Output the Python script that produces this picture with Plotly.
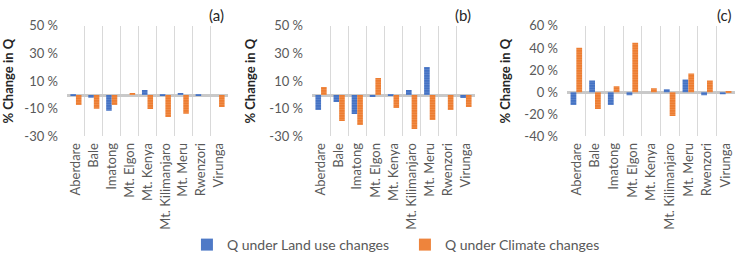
import plotly.graph_objects as go

categories = ["Aberdare", "Bale", "Imatong", "Mt. Elgon", "Mt. Kenya",
              "Mt. Kilimanjaro", "Mt. Meru", "Rwenzori", "Virunga"]

# values in %
a_land = [0.5, -2.0, -11.4, 0.0, 3.6, 0.5, 1.5, 0.7, 0.0]
a_clim = [-7.3, -10.0, -7.3, 1.5, -10.2, -16.0, -13.6, 0.0, -8.7]
b_land = [-10.8, -5.0, -13.7, -1.4, 0.7, 3.6, 20.2, 0.0, -2.2]
b_clim = [5.8, -18.8, -21.7, 12.3, -9.4, -24.6, -18.0, -10.8, -8.7]
c_land = [-11.6, 10.7, -11.6, -2.7, 0.0, 2.7, 11.6, -2.7, -1.8]
c_clim = [40.3, -15.2, 5.4, 44.8, 3.6, -21.5, 17.0, 10.7, 0.9]

panel_labels = ["(a)", "(b)", "(c)"]
a_ticks = [-30, -10, 10, 30, 50]
c_ticks = [-40, -20, 0, 20, 40, 60]
series_names = ["Q under Land use changes", "Q under Climate changes"]

BLUE = "#4472C4"
ORANGE = "#ED7D31"
FONT = "Lato"
GRAY = "#595959"

W, H = 743, 261
panels = [
    (a_land, a_clim, (67, 228), a_ticks, [-30, 50]),
    (b_land, b_clim, (312, 475), a_ticks, [-30, 50]),
    (c_land, c_clim, (567, 735), c_ticks, [-40, 60]),
]
ytop, ybot = 26, 137

fig = go.Figure()
layout = dict(
    width=W, height=H,
    margin=dict(l=0, r=0, t=0, b=0),
    paper_bgcolor="white", plot_bgcolor="white",
    barmode="group", bargap=0.38, bargroupgap=0.0,
    font=dict(family=FONT, color=GRAY),
    showlegend=True,
    legend=dict(orientation="h", x=0.545, xanchor="center", y=(H - 246) / H,
                yanchor="middle", font=dict(size=14, color=GRAY, family=FONT),
                itemwidth=30, entrywidth=173, tracegroupgap=0, bgcolor="rgba(0,0,0,0)"),
)
annotations = []
for i, (land, clim, (x0, x1), ticks, rng) in enumerate(panels):
    n = "" if i == 0 else str(i + 1)
    xa, ya = "x" + n, "y" + n
    fig.add_trace(go.Bar(
        x=categories, y=land, name=series_names[0], xaxis=xa, yaxis=ya,
        marker=dict(color=BLUE, line=dict(width=0),
                    pattern=dict(shape="-", fgcolor="#7A9BD6", size=2.5, solidity=0.35)),
        showlegend=(i == 0), legendgroup="land"))
    fig.add_trace(go.Bar(
        x=categories, y=clim, name=series_names[1], xaxis=xa, yaxis=ya,
        marker=dict(color=ORANGE, line=dict(width=0),
                    pattern=dict(shape="-", fgcolor="#F4A46E", size=2.5, solidity=0.35)),
        showlegend=(i == 0), legendgroup="clim"))
    layout["xaxis" + n] = dict(
        domain=[x0 / W, x1 / W], anchor=ya, type="category",
        tickson="boundaries", showgrid=True, gridcolor="#D9D9D9", gridwidth=1,
        showline=False, ticks="", tickangle=-90,
        tickfont=dict(size=13, color=GRAY, family=FONT), automargin=False,
        zeroline=False, ticklabelstandoff=3)
    layout["yaxis" + n] = dict(
        domain=[1 - ybot / H, 1 - ytop / H], anchor=xa, range=rng,
        tickvals=ticks, ticktext=[f"{t} %" for t in ticks],
        showgrid=False, zeroline=True, zerolinecolor="#C9C9C9", zerolinewidth=2.5,
        showline=False, ticks="", tickfont=dict(size=13, color=GRAY, family=FONT),
        ticklabelstandoff=8, automargin=False,
        title=dict(text="<b>% Change in Q</b>", font=dict(size=13, color="#262626", family=FONT),
                   standoff=10))
    annotations.append(dict(text=panel_labels[i], x=(x1 - 2) / W, y=1 - 15 / H,
                            xref="paper", yref="paper", xanchor="right", yanchor="middle",
                            showarrow=False, font=dict(size=15, color="#262626", family=FONT)))
layout["annotations"] = annotations
fig.update_layout(**layout)
fig.write_html("out.html", config={"displayModeBar": False},
               post_script="document.body.style.margin='0';")
